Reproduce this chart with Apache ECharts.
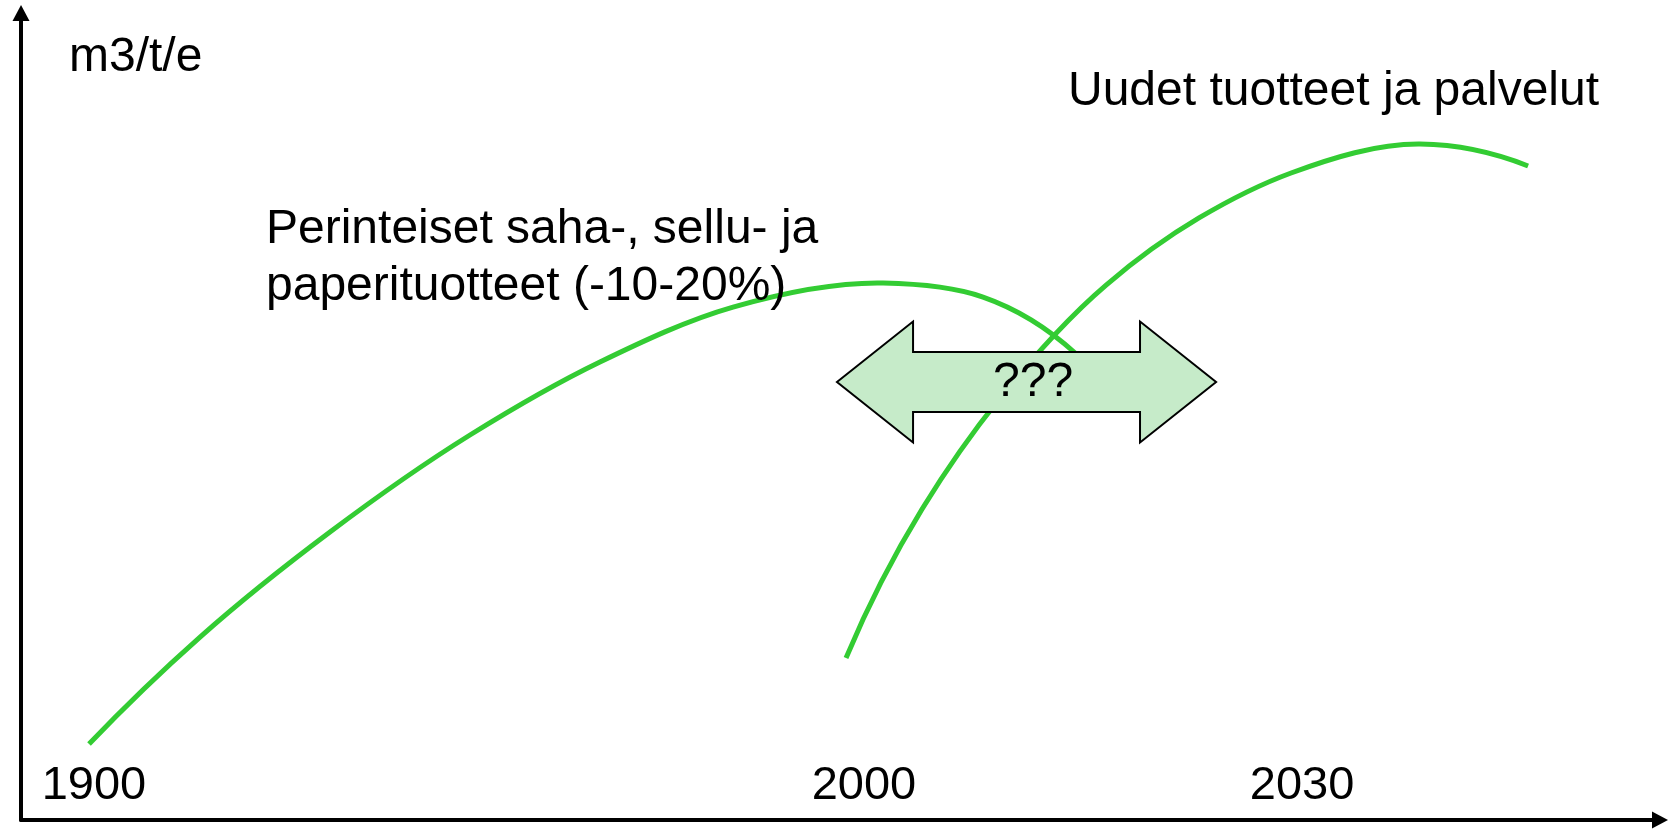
<!DOCTYPE html>
<html>
<head>
<meta charset="utf-8">
<script src="https://cdn.jsdelivr.net/npm/echarts@6/dist/echarts.min.js"></script>
<style>
html,body{margin:0;padding:0;background:#fff;}
#chart{width:1672px;height:834px;}
</style>
</head>
<body>
<div id="chart"></div>
<script>
// ---- data (relative time units on x, relative volume units on y) ----
const traditionalX = [4.13, 10.87, 18.76, 27.26, 35.15, 43.23, 52.34, 58.41, 64.00];
const traditionalY = [9.33, 22.45, 35.34, 47.24, 56.20, 62.94, 65.89, 64.17, 57.30];
const newX = [50.09, 54.71, 59.44, 65.88, 71.52, 77.11, 84.94, 91.50];
const newY = [19.88, 38.16, 51.78, 65.64, 73.87, 79.39, 82.94, 80.25];
const tickPositions = [4.43, 51.18, 77.78];
const tickLabels = ['1900', '2000', '2030'];
const yAxisTitle = 'm3/t/e';
const labelNew = 'Uudet tuotteet ja palvelut';
const labelTraditional = ['Perinteiset saha-, sellu- ja', 'paperituotteet (-10-20%)'];
const transitionLabel = '???';
// transition arrow: [leftTip, leftHeadBack, rightHeadBack, rightTip, yCenter, headHalf, shaftHalf]
const transitionArrow = [[49.54, 54.16, 67.94, 72.56, 53.74, 7.42, 3.68]];
const transitionLabelX = 61.45;

const FONT = '"Liberation Sans", Arial, Helvetica, sans-serif';
const FS = 47;
const FS_TEXT = 48;
const GREEN = '#33cc33';

const chart = echarts.init(document.getElementById('chart'), null, {renderer: 'canvas'});

function pairs(xs, ys) { return xs.map((x, i) => [x, ys[i]]); }
function textEl(x, y, txt) {
  return {type: 'text', x: x, y: y, z: 10,
    style: {text: txt, font: FS_TEXT + 'px ' + FONT, fill: '#000',
            textAlign: 'left', textVerticalAlign: 'middle', align: 'left', verticalAlign: 'middle'}};
}

// Smooth curve through the data points (chord-parameterised Hermite spline),
// with every point placed through the chart's own axes (api.coord).
function curveRenderer(params, api) {
  if (params.dataIndexInside !== 0) return null;
  const n = params.dataInsideLength;
  const P = [];
  for (let i = 0; i < n; i++) P.push(api.coord([api.value(0, i), api.value(1, i)]));
  const d = [];
  for (let i = 0; i < n - 1; i++) d.push(Math.hypot(P[i + 1][0] - P[i][0], P[i + 1][1] - P[i][1]) || 1e-6);
  const T = [];
  for (let i = 0; i < n; i++) {
    let t;
    if (n < 3) {
      t = [(P[1][0] - P[0][0]) / d[0], (P[1][1] - P[0][1]) / d[0]];
    } else if (i === 0) {
      const a = d[0], b = d[1];
      const c0 = -(1 / a + 1 / (a + b)), c1 = (a + b) / (a * b), c2 = -a / (b * (a + b));
      t = [c0 * P[0][0] + c1 * P[1][0] + c2 * P[2][0], c0 * P[0][1] + c1 * P[1][1] + c2 * P[2][1]];
    } else if (i === n - 1) {
      const a = d[n - 3], b = d[n - 2];
      const c0 = b / (a * (a + b)), c1 = -(a + b) / (a * b), c2 = 1 / b + 1 / (a + b);
      t = [c0 * P[n - 3][0] + c1 * P[n - 2][0] + c2 * P[n - 1][0], c0 * P[n - 3][1] + c1 * P[n - 2][1] + c2 * P[n - 1][1]];
    } else {
      const a = d[i - 1], b = d[i];
      const c0 = -b / (a * (a + b)), c1 = (b - a) / (a * b), c2 = a / (b * (a + b));
      t = [c0 * P[i - 1][0] + c1 * P[i][0] + c2 * P[i + 1][0], c0 * P[i - 1][1] + c1 * P[i][1] + c2 * P[i + 1][1]];
    }
    T.push(t);
  }
  let path = 'M' + P[0][0] + ' ' + P[0][1];
  for (let i = 0; i < n - 1; i++) {
    const h = d[i] / 3;
    const c1 = [P[i][0] + T[i][0] * h, P[i][1] + T[i][1] * h];
    const c2 = [P[i + 1][0] - T[i + 1][0] * h, P[i + 1][1] - T[i + 1][1] * h];
    path += ' C' + c1[0] + ' ' + c1[1] + ' ' + c2[0] + ' ' + c2[1] + ' ' + P[i + 1][0] + ' ' + P[i + 1][1];
  }
  return {
    type: 'path',
    shape: {pathData: path},
    style: {fill: 'none', stroke: GREEN, lineWidth: 5, lineCap: 'butt', lineJoin: 'round'}
  };
}

const option = {
  animation: false,
  backgroundColor: '#ffffff',
  grid: {left: 21, right: 12, top: 13, bottom: 14, containLabel: false, outerBoundsMode: 'none'},
  xAxis: {
    type: 'value', min: 0, max: 99.51,
    splitLine: {show: false},
    axisTick: {show: false},
    axisLine: {show: true, onZero: false, symbol: ['none', 'triangle'], symbolSize: [17, 16],
      lineStyle: {color: '#000', width: 4}},
    axisLabel: {
      show: true, inside: true, margin: 10,
      customValues: tickPositions,
      formatter: function (v) {
        const i = tickPositions.findIndex(p => Math.abs(p - v) < 1e-6);
        return i >= 0 ? tickLabels[i] : '';
      },
      color: '#000', fontSize: FS, fontFamily: FONT, lineHeight: FS,
      showMinLabel: true, showMaxLabel: true, hideOverlap: false
    }
  },
  yAxis: {
    type: 'value', min: 0, max: 99.02,
    splitLine: {show: false},
    axisTick: {show: false},
    axisLabel: {show: false},
    axisLine: {show: true, onZero: false, symbol: ['none', 'triangle'], symbolSize: [17, 16],
      lineStyle: {color: '#000', width: 4}}
  },
  series: [
    {
      type: 'custom', name: 'traditional', data: pairs(traditionalX, traditionalY),
      encode: {x: 0, y: 1}, renderItem: curveRenderer, z: 2
    },
    {
      type: 'custom', name: 'new', data: pairs(newX, newY),
      encode: {x: 0, y: 1}, renderItem: curveRenderer, z: 2
    },
    {
      type: 'custom', name: 'transition', data: transitionArrow, z: 5,
      encode: {x: [0, 3], y: 4},
      renderItem: function (params, api) {
        const xL = api.value(0), xLB = api.value(1), xRB = api.value(2), xR = api.value(3);
        const yc = api.value(4), hh = api.value(5), sh = api.value(6);
        const pts = [[xL, yc], [xLB, yc + hh], [xLB, yc + sh], [xRB, yc + sh], [xRB, yc + hh],
                     [xR, yc], [xRB, yc - hh], [xRB, yc - sh], [xLB, yc - sh], [xLB, yc - hh]]
                     .map(p => api.coord(p));
        const c = api.coord([transitionLabelX, yc]);
        return {
          type: 'group',
          children: [
            {type: 'polygon', shape: {points: pts},
             style: {fill: '#c6ebc9', stroke: '#000', lineWidth: 2, lineJoin: 'miter'}},
            {type: 'text', x: c[0], y: c[1] + 1,
             style: {text: transitionLabel, font: FS_TEXT + 'px ' + FONT, fill: '#000',
                     textAlign: 'center', textVerticalAlign: 'middle', align: 'center', verticalAlign: 'middle'}}
          ]
        };
      }
    }
  ],
  graphic: [
    textEl(69, 58, yAxisTitle),
    textEl(1068, 92, labelNew),
    textEl(266, 230, labelTraditional[0]),
    textEl(266, 287, labelTraditional[1])
  ]
};
chart.setOption(option);
</script>
</body>
</html>
